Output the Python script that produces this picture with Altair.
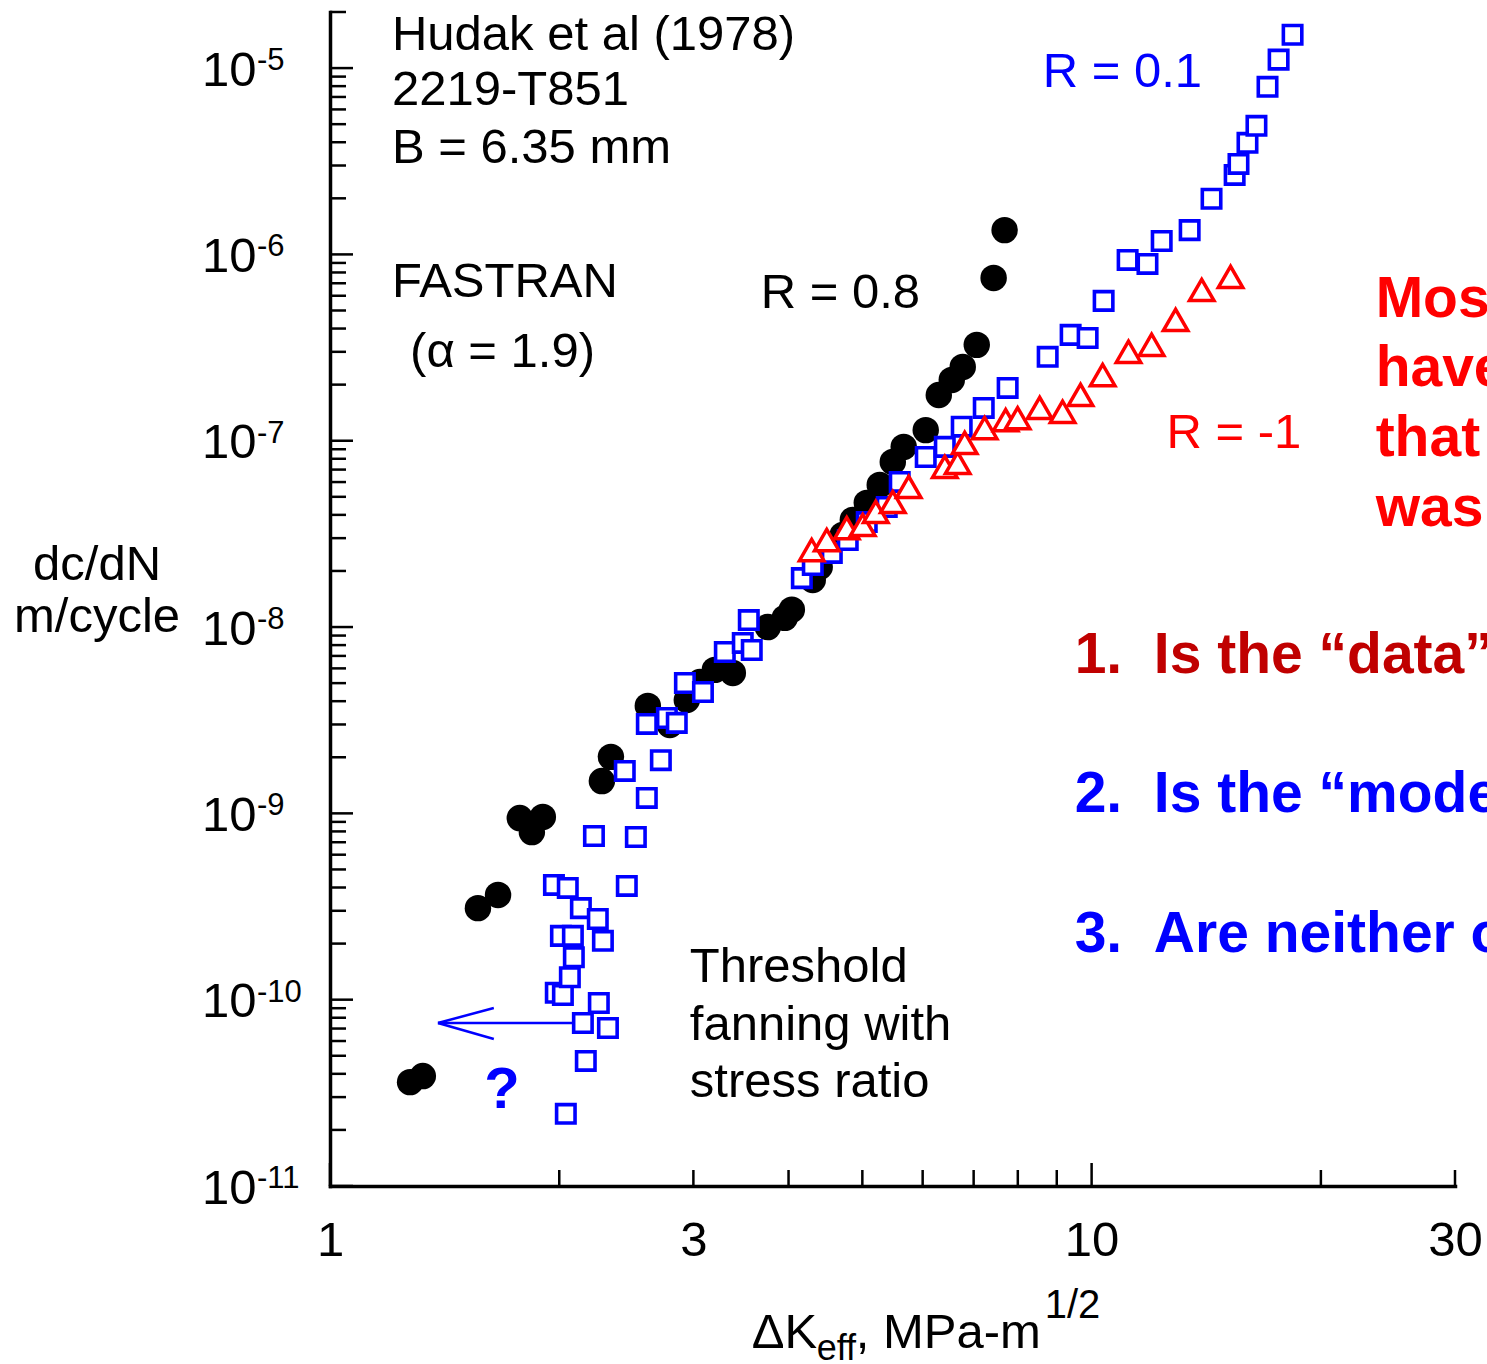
import altair as alt
import pandas as pd

# ---------------- data ----------------
# R = 0.8 (filled circles)
r08_dk = [1.274, 1.324, 1.564, 1.662, 1.775, 1.841, 1.903, 2.275, 2.338, 2.614, 2.794,
          2.941, 3.060, 3.201, 3.380, 3.757, 3.955, 4.040, 4.304, 4.395, 4.712, 4.858,
          5.067, 5.270, 5.482, 5.666, 6.056, 6.300, 6.552, 6.773, 7.066, 7.436, 7.687]
r08_rate = [3.61e-11, 3.89e-11, 3.10e-10, 3.65e-10, 9.44e-10, 7.94e-10, 9.57e-10, 1.49e-9,
            2.01e-9, 3.77e-9, 2.98e-9, 4.06e-9, 5.07e-9, 5.89e-9, 5.67e-9, 1.00e-8, 1.12e-8,
            1.24e-8, 1.79e-8, 2.10e-8, 3.12e-8, 3.76e-8, 4.64e-8, 5.79e-8, 7.69e-8, 9.27e-8,
            1.14e-7, 1.76e-7, 2.12e-7, 2.49e-7, 3.27e-7, 7.48e-7, 1.35e-6]

# R = 0.1 (open squares)
r01_dk = [2.040, 2.167, 2.148, 2.317, 2.254, 1.979, 2.022, 2.065, 2.090, 2.010, 2.084,
          2.282, 2.135, 2.247, 1.968, 2.052, 2.453, 2.221, 2.521, 2.606, 2.719, 2.438,
          2.606, 2.769, 2.853, 2.924, 3.088, 3.299, 3.483, 3.579, 3.547, 4.164, 4.304,
          4.559, 4.784, 5.067, 5.383, 5.598, 6.056, 6.415, 6.752, 7.217, 7.758, 8.756,
          9.385, 9.88, 10.37, 11.15, 11.84, 12.36, 13.45, 14.37, 15.41, 15.59, 16.02,
          16.46, 17.02, 17.60, 18.36]
r01_rate = [2.44e-11, 4.69e-11, 7.50e-11, 7.05e-11, 9.60e-11, 1.09e-10, 1.06e-10, 1.32e-10,
            1.69e-10, 2.20e-10, 2.20e-10, 2.07e-10, 3.10e-10, 2.71e-10, 4.13e-10, 3.98e-10,
            4.08e-10, 7.56e-10, 7.47e-10, 1.21e-9, 1.93e-9, 1.69e-9, 3.02e-9, 3.25e-9,
            3.06e-9, 5.01e-9, 4.48e-9, 7.35e-9, 8.22e-9, 7.53e-9, 1.09e-8, 1.83e-8, 2.15e-8,
            2.50e-8, 2.93e-8, 3.66e-8, 4.41e-8, 6.01e-8, 8.18e-8, 9.27e-8, 1.19e-7, 1.50e-7,
            1.92e-7, 2.82e-7, 3.70e-7, 3.56e-7, 5.63e-7, 9.34e-7, 8.89e-7, 1.18e-6, 1.35e-6,
            1.99e-6, 2.67e-6, 3.06e-6, 3.97e-6, 4.90e-6, 7.93e-6, 1.11e-5, 1.51e-5]

# R = -1 (open triangles)
rm1_dk = [4.290, 4.490, 4.770, 5.006, 5.207, 5.482, 5.752, 6.415, 6.67, 6.813, 7.237,
          7.711, 7.996, 8.547, 9.16, 9.67, 10.34, 11.18, 11.99, 12.89, 13.95, 15.22]
rm1_rate = [2.59e-8, 2.93e-8, 3.40e-8, 3.53e-8, 4.15e-8, 4.69e-8, 5.65e-8, 7.23e-8, 7.60e-8,
            9.73e-8, 1.17e-7, 1.29e-7, 1.32e-7, 1.50e-7, 1.43e-7, 1.76e-7, 2.25e-7, 3.00e-7,
            3.27e-7, 4.45e-7, 6.44e-7, 7.57e-7]

# axis ticks / labels
x_label_values = [1, 3, 10, 30]
x_major_ticks = [1, 10]
x_minor_ticks = [2, 3, 4, 5, 6, 7, 8, 9, 20, 30]
y_major_ticks = [1e-11, 1e-10, 1e-9, 1e-8, 1e-7, 1e-6, 1e-5]
y_exponents = ["-11", "-10", "-9", "-8", "-7", "-6", "-5"]
y_minor_ticks = [k * 10.0 ** d for d in range(-11, -5) for k in range(2, 10)] + [2e-5]

# annotation texts, anchored in data coordinates (dK, dc/dN)
black_notes = ["Hudak et al (1978)", "2219-T851", "B = 6.35 mm", "FASTRAN", "(\u03b1 = 1.9)",
               "R = 0.8", "Threshold", "fanning with", "stress ratio"]
black_notes_x = [1.206, 1.206, 1.206, 1.206, 1.274, 3.678, 2.968, 2.968, 2.968]
black_notes_y = [1.252e-5, 6.347e-6, 3.10e-6, 5.914e-7, 2.49e-7, 5.16e-7, 1.245e-10, 6.08e-11, 3.005e-11]

ytitle_lines = ["dc/dN", "m/cycle"]
ytitle_x = [0.4945, 0.4945]
ytitle_y = [1.79e-8, 9.41e-9]

red_bold_lines = ["Mos", "have", "that", "was"]
red_bold_x = [23.6, 23.6, 23.6, 23.6]
red_bold_y = [4.62e-7, 1.968e-7, 8.29e-8, 3.49e-8]

NB = "\u00a0\u00a0"
q1_text, q1_x, q1_y = ["1." + NB + "Is the \u201cdata\u201d"], [9.5], [5.67e-9]
q23_text = ["2." + NB + "Is the \u201cmodel\u201d", "3." + NB + "Are neither o"]
q23_x, q23_y = [9.5, 9.5], [1.017e-9, 1.803e-10]

# x-axis title pieces (main, subscript, main, superscript)
xt_main = ["\u0394K", ", MPa-m"]
xt_main_x = [3.579, 4.90]
xt_main_y = [1.35e-12, 1.35e-12]
xt_sub, xt_sub_x, xt_sub_y = ["eff"], [4.356], [1.164e-12]
xt_sup, xt_sup_x, xt_sup_y = ["1/2"], [8.677], [1.957e-12]

# threshold arrow segments (from, to) in data coordinates
arrow_x = [2.084, 1.386, 1.386]
arrow_y = [7.5e-11, 7.5e-11, 7.5e-11]
arrow_x2 = [1.386, 1.641, 1.641]
arrow_y2 = [7.5e-11, 9.02e-11, 6.15e-11]

# ---------------- styling ----------------
FONT = "Liberation Sans, Arial, Helvetica, sans-serif"
BLUE, RED, DARKRED = "#0000FF", "#FF0000", "#C00000"
W, H = 1125, 1174

xs = alt.Scale(type="log", domain=[1, 30], nice=False)
ys = alt.Scale(type="log", domain=[1e-11, 2e-5], nice=False)

x_axis = alt.Axis(values=x_label_values, format="~g", labelFont=FONT, labelFontSize=49,
                  labelColor="black", labelPadding=69, labelBaseline="alphabetic",
                  labelFlush=False, labelOverlap=False, ticks=False, tickSize=0, grid=False,
                  domainColor="black", domainWidth=3.5, domainCap="square", title=None)
y_axis = alt.Axis(labels=False, ticks=False, tickSize=0, grid=False, domainColor="black",
                  domainWidth=3.5, domainCap="square", title=None)


def X(f="x"):
    return alt.X(f"{f}:Q", scale=xs, axis=x_axis)


def Y(f="y"):
    return alt.Y(f"{f}:Q", scale=ys, axis=y_axis)


def text_layer(texts, xv, yv, color, size, weight="normal", font=FONT, align="left", dy=0):
    df = pd.DataFrame({"x": xv, "y": yv, "t": texts})
    return alt.Chart(df).mark_text(align=align, baseline="alphabetic", font=font,
                                   fontSize=size, fontWeight=weight, color=color,
                                   dy=dy).encode(x=X(), y=Y(), text="t:N")


layers = []

# data series
layers.append(alt.Chart(pd.DataFrame({"x": r08_dk, "y": r08_rate})).mark_point(
    shape="circle", filled=True, size=700, color="black", opacity=1).encode(x=X(), y=Y()))
layers.append(alt.Chart(pd.DataFrame({"x": r01_dk, "y": r01_rate})).mark_point(
    shape="square", filled=True, size=340, fill="white", stroke=BLUE, strokeWidth=3.6,
    opacity=1).encode(x=X(), y=Y()))
layers.append(alt.Chart(pd.DataFrame({"x": rm1_dk, "y": rm1_rate})).mark_point(
    shape="triangle-up", filled=True, size=600, fill="white", stroke=RED, strokeWidth=3.5,
    opacity=1).encode(x=X(), y=Y()))

# inward ticks
xdat = alt.XDatum(1.0, type="quantitative", scale=xs, axis=x_axis)
ydat = alt.YDatum(1e-11, type="quantitative", scale=ys, axis=y_axis)
for vals, ln in ((y_major_ticks, 23), (y_minor_ticks, 16)):
    layers.append(alt.Chart(pd.DataFrame({"y": vals})).mark_rule(
        color="black", strokeWidth=2.5, x2Offset=ln).encode(
        x=xdat, x2=alt.X2Datum(1.0), y=Y()))
for vals, ln in ((x_major_ticks, 23), (x_minor_ticks, 16)):
    layers.append(alt.Chart(pd.DataFrame({"x": vals})).mark_rule(
        color="black", strokeWidth=2.5, y2Offset=-ln).encode(
        x=X(), y=ydat, y2=alt.Y2Datum(1e-11)))

# y tick labels: "10" with superscript exponent
ylab = pd.DataFrame({"y": y_major_ticks, "e": y_exponents})
layers.append(alt.Chart(ylab).mark_text(text="10", align="left", baseline="alphabetic",
                                        font=FONT, fontSize=49, color="black", dy=17.5).encode(
    x=alt.XDatum(0.6793, type="quantitative", scale=xs, axis=x_axis), y=Y()))
layers.append(alt.Chart(ylab).mark_text(align="left", baseline="alphabetic", font=FONT,
                                        fontSize=31, color="black", dy=2).encode(
    x=alt.XDatum(0.802, type="quantitative", scale=xs, axis=x_axis), y=Y(), text="e:N"))

# arrow
layers.append(alt.Chart(pd.DataFrame({"x": arrow_x, "y": arrow_y, "x2": arrow_x2, "y2": arrow_y2}))
              .mark_rule(color=BLUE, strokeWidth=2.5).encode(
    x=X(), y=Y(), x2=alt.X2("x2:Q"), y2=alt.Y2("y2:Q")))

# annotations
layers.append(text_layer(black_notes, black_notes_x, black_notes_y, "black", 49))
layers.append(text_layer(ytitle_lines, ytitle_x, ytitle_y, "black", 49, align="center"))
layers.append(text_layer(["R = 0.1"], [8.625], [7.93e-6], BLUE, 49))
layers.append(text_layer(["R = -1"], [12.54], [9.15e-8], RED, 49))
layers.append(text_layer(red_bold_lines, red_bold_x, red_bold_y, RED, 57, weight="bold"))
layers.append(text_layer(q1_text, q1_x, q1_y, DARKRED, 57, weight="bold"))
layers.append(text_layer(q23_text, q23_x, q23_y, BLUE, 57, weight="bold"))
layers.append(text_layer(["?"], [1.682], [2.623e-11], BLUE, 58, weight="bold", align="center"))
layers.append(text_layer(xt_main, xt_main_x, xt_main_y, "black", 49))
layers.append(text_layer(xt_sub, xt_sub_x, xt_sub_y, "black", 36))
layers.append(text_layer(xt_sup, xt_sup_x, xt_sup_y, "black", 40))

chart = alt.layer(*layers).properties(
    width=W, height=H,
    autosize=alt.AutoSizeParams(type="none"),
    padding={"left": 330, "top": 12, "right": 32, "bottom": 178},
    background="white",
).configure_view(strokeWidth=0)

chart.save("out.html", embed_options={"renderer": "svg", "actions": False})
